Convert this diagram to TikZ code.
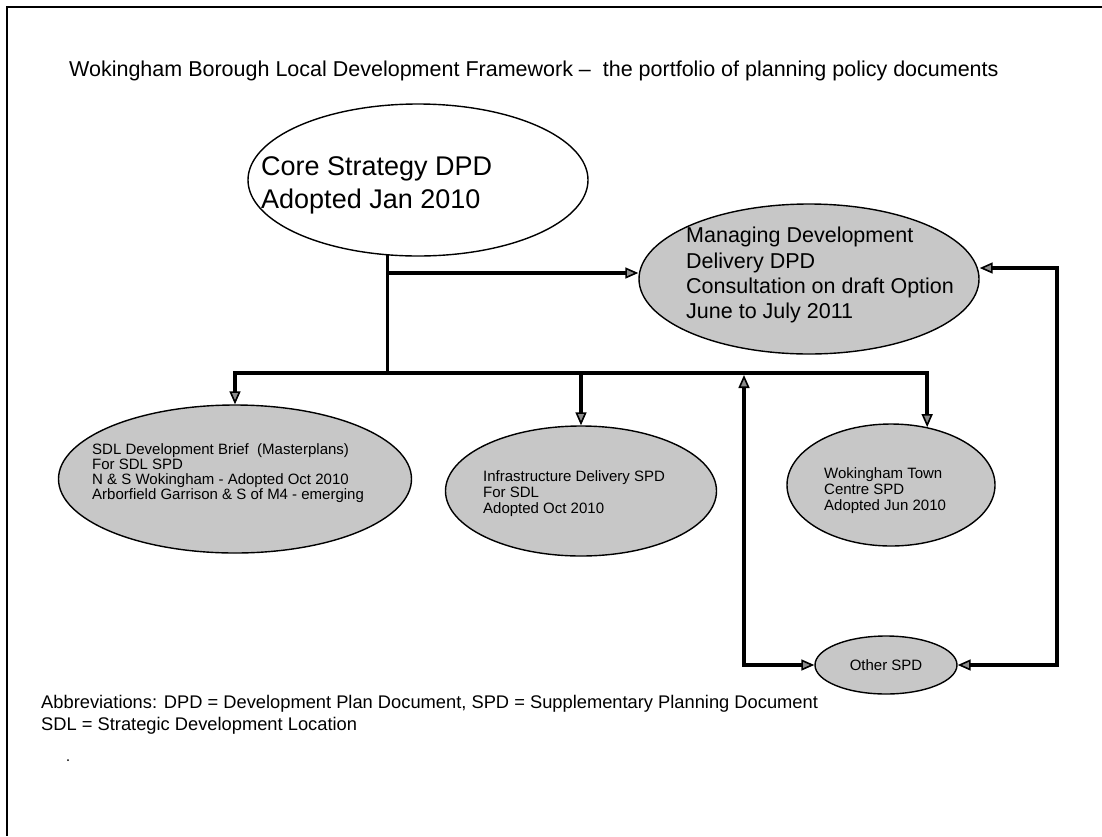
\documentclass[tikz,border=0pt]{standalone}
\usepackage{fontspec}
\setmainfont{Liberation Sans}
\usetikzlibrary{shapes.geometric,arrows.meta}
\begin{document}
\begin{tikzpicture}[x=1pt,y=-1pt,
  >={Triangle[length=13pt,width=11pt,line width=1.6pt,fill=black!45]},
  frame/.style={line width=1.6pt},
  conn/.style={line width=3.5pt},
  el/.style={draw, ellipse, line width=1.4pt, inner sep=0pt, fill=black!22},
  txt/.style={inner sep=0pt, align=left, anchor=north west},
  small/.style={font=\fontsize{15}{15}\selectfont},
  smallb/.style={font=\fontsize{15}{16}\selectfont},
]
\useasboundingbox (0,0) rectangle (1102,836);
\draw[frame] (1102,7) -- (7,7) -- (7,836);
\node[anchor=base west, inner sep=0pt, font=\fontsize{21.5}{26}\selectfont] (title) at (69,76)
  {Wokingham Borough Local Development Framework –~ the portfolio of planning policy documents};

% ellipses
\node[el, fill=white, minimum width=340pt, minimum height=152pt] (core) at (418,180) {};
\node[el, minimum width=340pt, minimum height=150pt] (mdd) at (809,279) {};
\node[el, minimum width=353pt, minimum height=148pt] (sdl) at (235,479) {};
\node[el, minimum width=271pt, minimum height=130pt] (infra) at (581,491) {};
\node[el, minimum width=208pt, minimum height=122pt] (wtc) at (891,485) {};
\node[el, minimum width=142pt, minimum height=58pt, small] (other) at (886,665) {Other SPD};

% texts
\node[txt, font=\fontsize{27}{33}\selectfont] (coret) at (261,156) {Core Strategy DPD\\Adopted Jan 2010};
\node[txt, font=\fontsize{21.5}{25.3}\selectfont] (mddt) at (686,227) {Managing Development\\Delivery DPD\\Consultation on draft Option\\June to July 2011};
\node[txt, small] (sdlt) at (92,443) {SDL Development Brief~ (Masterplans)\\For SDL SPD\\N \& S Wokingham - Adopted Oct 2010\\Arborfield Garrison \& S of M4 - emerging};
\node[txt, smallb] (infrat) at (483,470) {Infrastructure Delivery SPD\\For SDL\\Adopted Oct 2010};
\node[txt, smallb] (wtct) at (824,467) {Wokingham Town\\Centre SPD\\Adopted Jun 2010};
\node[txt, font=\fontsize{18.3}{22}\selectfont] (abbr) at (41,695) {Abbreviations: DPD = Development Plan Document, SPD = Supplementary Planning Document\\SDL = Strategic Development Location};
\fill (68,760) circle (1pt);

% connectors
\coordinate (bus) at (0,373);
\coordinate (br) at (0,273);
\coordinate (lx) at (744,375);
\coordinate (rtop) at (1057,268);
\draw[conn] (core.-112.5) -- (core.-112.5 |- bus);
\draw[conn,->] (core.-112.5 |- br) -- (mdd.west |- br);
\draw[conn, line cap=rect] (sdl.north |- bus) -- (wtc.58 |- bus);
\draw[conn,->] (sdl.north |- bus) -- (sdl.north);
\draw[conn,->] (infra.north |- bus) -- (infra.north);
\draw[conn,->] (wtc.58 |- bus) -- (wtc.58);
\draw[conn,<->] (lx) |- (other.west);
\draw[conn,<->] (mdd.east |- rtop) -- (rtop) |- (other.east);
\end{tikzpicture}
\end{document}
